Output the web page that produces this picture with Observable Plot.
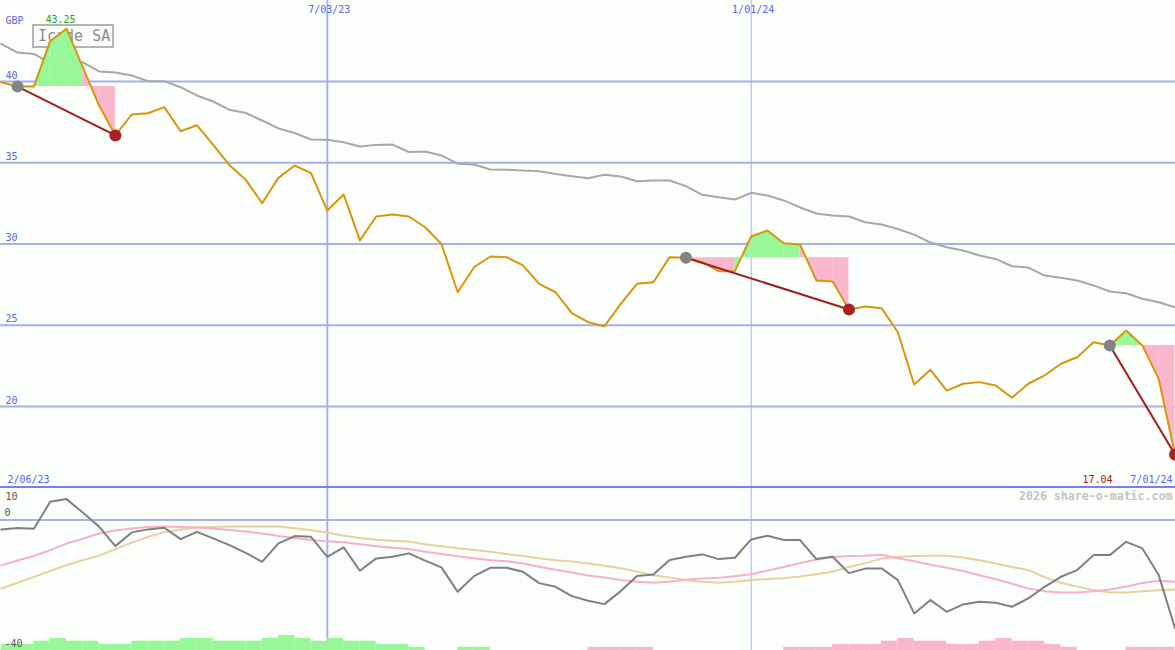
<!DOCTYPE html>
<html><head><meta charset="utf-8">
<script src="https://cdn.jsdelivr.net/npm/d3@7"></script>
<script src="https://cdn.jsdelivr.net/npm/@observablehq/plot@0.6"></script>
<style>
body{margin:0;background:#fcfefb;}
#wrap{position:relative;width:1175px;height:650px;overflow:hidden;background:#fcfefb;}
#title{position:absolute;left:32px;top:24px;width:78px;height:20px;border:2px solid #b4b4b4;font:15px "DejaVu Sans Mono",monospace;color:#8a8a8a;line-height:20px;padding-left:4px;box-sizing:content-box;width:74px;}
#wrap svg{position:relative;display:block;overflow:visible;}
</style></head><body><div id="wrap"><div id="title">Icade SA</div></div>
<script>
// ---- data ----
const firstWeek = "2023-02-13";
const weekCount = 73;
const price = [39.95,39.69,39.69,42.48,43.25,40.88,38.52,36.68,37.97,38.05,
  38.42,36.94,37.31,36.10,34.85,33.95,32.51,34.07,34.83,34.36,
  32.06,33.05,30.22,31.69,31.82,31.69,31.03,30.00,27.03,28.57,
  29.23,29.19,28.68,27.55,27.03,25.74,25.19,24.94,26.32,27.55,
  27.65,29.19,29.15,28.88,28.33,28.33,30.46,30.83,30.05,29.97,
  27.75,27.69,25.97,26.15,26.05,24.57,21.35,22.26,20.98,21.40,
  21.50,21.29,20.54,21.40,21.91,22.63,23.03,23.96,23.75,24.68,
  23.75,21.70,17.04];
const average = [42.32,41.78,41.70,41.13,41.40,41.17,40.62,40.55,40.37,40.02,
  40.02,39.65,39.14,38.77,38.26,38.06,37.60,37.11,36.83,36.43,
  36.41,36.26,36.00,36.10,36.12,35.66,35.69,35.45,34.94,34.89,
  34.58,34.57,34.52,34.48,34.31,34.17,34.05,34.26,34.15,33.86,
  33.91,33.91,33.56,33.03,32.88,32.74,33.15,32.98,32.68,32.25,
  31.88,31.75,31.69,31.34,31.20,30.92,30.58,30.09,29.80,29.60,
  29.29,29.08,28.63,28.55,28.06,27.92,27.75,27.45,27.08,26.97,
  26.63,26.42,26.11];
const oscillator = [-2.85,-2.45,-2.67,5.61,6.44,2.3,-2.0,-7.98,-3.77,-2.85,
  -2.36,-5.83,-3.59,-5.61,-7.67,-10.03,-12.79,-7.15,-4.91,-5.12,
  -11.26,-8.37,-15.55,-11.75,-11.26,-10.21,-12.42,-14.51,-22.0,-17.18,
  -14.63,-14.63,-15.86,-19.33,-20.46,-23.31,-24.75,-25.77,-21.78,-17.18,
  -16.66,-12.27,-11.26,-10.52,-11.96,-11.56,-5.92,-4.82,-6.13,-6.13,
  -11.96,-11.26,-16.26,-14.88,-14.82,-18.4,-28.62,-24.54,-28.13,-25.86,
  -25.06,-25.37,-26.6,-24.02,-20.46,-17.39,-15.34,-10.74,-10.74,-6.66,
  -8.68,-16.87,-33.2];
const oscPink = [-13.9,-12.4,-11.0,-9.2,-7.2,-5.7,-4.1,-3.2,-2.6,-2.1,
  -2.0,-2.1,-2.3,-2.6,-3.0,-3.5,-4.1,-4.9,-5.5,-6.1,
  -6.5,-6.8,-7.4,-8.0,-8.5,-8.9,-9.7,-10.4,-11.1,-11.7,
  -12.3,-12.6,-13.3,-14.3,-15.2,-16.1,-17.0,-17.6,-18.4,-18.9,
  -19.2,-18.9,-18.3,-17.9,-17.7,-17.2,-16.6,-15.5,-14.4,-13.2,
  -12.1,-11.3,-11.0,-10.9,-10.6,-11.7,-12.6,-13.7,-14.6,-15.6,
  -16.9,-18.1,-19.5,-21.0,-21.8,-22.2,-22.2,-21.8,-21.3,-20.4,
  -19.3,-18.6,-18.9];
const oscTan = [-21.0,-19.2,-17.4,-15.6,-13.8,-12.3,-10.9,-8.9,-6.9,-5.2,
  -3.7,-2.9,-2.3,-2.1,-2.0,-2.0,-2.0,-2.0,-2.5,-3.1,
  -3.8,-4.8,-5.5,-6.0,-6.3,-6.6,-7.4,-8.0,-8.6,-9.2,
  -9.7,-10.4,-11.0,-11.7,-12.3,-12.7,-13.3,-14.0,-14.8,-15.8,
  -16.9,-17.6,-18.4,-18.9,-19.2,-18.9,-18.4,-18.1,-17.8,-17.3,
  -16.6,-15.8,-14.4,-13.2,-11.8,-11.3,-11.0,-10.9,-10.9,-11.5,
  -12.3,-13.3,-14.4,-15.3,-17.5,-19.2,-20.4,-21.5,-22.1,-22.2,
  -21.8,-21.5,-21.3];
// weekly histogram: positive = green, negative = pink (72 weekly intervals)
const histogram = [1.85,1.85,2.85,3.7,2.85,2.85,1.85,1.85,2.85,2.85,
  2.85,3.7,3.7,2.85,2.85,2.85,3.7,4.6,3.7,2.85,
  3.7,2.85,2.85,1.85,1.85,1.0,0,0,1.0,1.0,
  0,0,0,0,0,0,-1.0,-1.0,-1.0,-1.0,
  0,0,0,0,0,0,0,0,-1.0,-1.0,
  -1.0,-1.85,-1.85,-1.85,-2.85,-3.7,-2.85,-2.85,-1.85,-1.85,
  -2.85,-3.7,-2.85,-2.85,-1.85,-1.0,0,0,0,-1.0,
  -1.0,-1.0];
const episodeStart = [2, 43, 69];   // week numbers (1-based)
const episodeEnd = [8, 53, 73];
const priceTicks = [20, 25, 30, 35, 40];
const oscTicksTop = [10];
const oscTicksOther = [0, -40];
const dateTicks = ["2023-07-03", "2024-01-01"];
const dateTickLabels = ["7/03/23", "1/01/24"];
const edgeLabels = ["2/06/23", "7/01/24"];
const currency = "GBP";
const credit = "2026 share-o-matic.com";

// ---- build ----
const t0 = d3.utcParse("%Y-%m-%d")(firstWeek);
const dates = d3.range(weekCount).map(i => d3.utcDay.offset(t0, 7 * i));
const rows = dates.map((d, i) => ({date: d, price: price[i], avg: average[i], osc: oscillator[i], pink: oscPink[i], tan: oscTan[i]}));
const tickRows = dateTicks.map((s, i) => ({date: d3.utcParse("%Y-%m-%d")(s), label: dateTickLabels[i]}));

const segGreen = [], segPink = [], links = [], starts = [], ends = [];
episodeStart.forEach((s, e) => {
  const a0 = s - 1, b0 = episodeEnd[e] - 1;
  const lvl = price[a0];
  for (let k = a0; k < b0; k++) {
    const target = price[k + 1] >= lvl ? segGreen : segPink;
    const id = e * 1000 + k;
    target.push({date: dates[k], p: price[k], lvl, seg: id}, {date: dates[k + 1], p: price[k + 1], lvl, seg: id});
  }
  links.push({d1: dates[a0], p1: price[a0], d2: dates[b0], p2: price[b0]});
  starts.push(rows[a0]); ends.push(rows[b0]);
});
const bars = histogram.map((h, k) => ({d1: dates[k], d2: dates[k + 1], h}));
const maxRow = rows.reduce((m, r) => r.price > m.price ? r : m, rows[0]);
const lastRow = rows[rows.length - 1];

const xDomain = [new Date(+dates[0] - 8 * 3600e3), new Date(+dates[weekCount - 1] + 5 * 3600e3)];
const blue = "#5566ee", grid = "#a4b0f2", font = "DejaVu Sans Mono";

const main = Plot.plot({
  width: 1175, height: 487, margin: 0,
  x: {type: "utc", domain: xDomain, axis: null},
  y: {domain: [15.015, 44.985], axis: null},
  style: {background: "transparent", fontFamily: font, fontSize: "10px"},
  marks: [
    Plot.ruleY(priceTicks, {stroke: grid, strokeWidth: 2}),
    Plot.ruleX(tickRows.slice(0, 1), {x: "date", stroke: grid, strokeWidth: 2}),
    Plot.ruleX(tickRows.slice(1), {x: "date", stroke: grid, strokeWidth: 1}),
    Plot.lineY(rows, {x: "date", y: "avg", stroke: "#a8a8a8", strokeWidth: 2}),
    Plot.areaY(segGreen, {x: "date", y1: "lvl", y2: "p", z: "seg", fill: "#98f898"}),
    Plot.areaY(segPink, {x: "date", y1: "lvl", y2: "p", z: "seg", fill: "#fab6cb"}),
    Plot.lineY(rows, {x: "date", y: "price", stroke: "#d8960c", strokeWidth: 2}),
    Plot.link(links, {x1: "d1", y1: "p1", x2: "d2", y2: "p2", stroke: "#a11d1d", strokeWidth: 2}),
    Plot.dot(starts, {x: "date", y: "price", r: 6, fill: "#848484"}),
    Plot.dot(ends, {x: "date", y: "price", r: 6, fill: "#a82222"}),
    Plot.text(priceTicks, {y: d => d, text: d => String(d), frameAnchor: "left", dx: 5, dy: -6, textAnchor: "start", fill: blue}),
    Plot.text([currency], {frameAnchor: "top-left", dx: 5, dy: 20, lineAnchor: "middle", textAnchor: "start", fill: blue}),
    Plot.text(tickRows, {x: "date", text: "label", frameAnchor: "top", dy: 9, dx: 2, lineAnchor: "middle", fill: blue}),
    Plot.text([maxRow], {x: "date", y: "price", text: d => d.price.toFixed(2), dx: -6, dy: -9, fill: "#22a022"}),
    Plot.text([edgeLabels[0]], {frameAnchor: "bottom-left", dx: 7, dy: -8, lineAnchor: "middle", textAnchor: "start", fill: blue}),
    Plot.text([edgeLabels[1]], {frameAnchor: "bottom-right", dx: -3, dy: -8, lineAnchor: "middle", textAnchor: "end", fill: blue}),
    Plot.text([lastRow], {text: d => d.price.toFixed(2), frameAnchor: "bottom-right", dx: -63, dy: -8, lineAnchor: "middle", textAnchor: "end", fill: "#a02020"})
  ]
});

const lower = Plot.plot({
  width: 1175, height: 163, margin: 0,
  x: {type: "utc", domain: xDomain, axis: null},
  y: {domain: [-40, 10], axis: null},
  style: {background: "transparent", fontFamily: font, fontSize: "10px"},
  marks: [
    Plot.ruleY([0], {stroke: grid, strokeWidth: 2}),
    Plot.ruleX(tickRows.slice(0, 1), {x: "date", stroke: grid, strokeWidth: 2}),
    Plot.ruleX(tickRows.slice(1), {x: "date", stroke: grid, strokeWidth: 1}),
    Plot.rect(bars.filter(b => b.h > 0), {x1: "d1", x2: "d2", y1: () => -40, y2: b => -40 + b.h, fill: "#98f898"}),
    Plot.rect(bars.filter(b => b.h < 0), {x1: "d1", x2: "d2", y1: () => -40, y2: b => -40 - b.h, fill: "#fab6cb"}),
    Plot.lineY(rows, {x: "date", y: "tan", stroke: "#e8d0a0", strokeWidth: 2}),
    Plot.lineY(rows, {x: "date", y: "pink", stroke: "#f8b0c8", strokeWidth: 2}),
    Plot.lineY(rows, {x: "date", y: "osc", stroke: "#808080", strokeWidth: 2}),
    Plot.ruleY([10], {stroke: "#7482ea", strokeWidth: 2, dy: -0.5}),
    Plot.text(oscTicksTop, {y: d => d, text: d => String(d), frameAnchor: "left", dx: 5, dy: 9, textAnchor: "start", fill: "#555"}),
    Plot.text(oscTicksOther, {y: d => d, text: d => String(d), frameAnchor: "left", dx: 4, dy: -7, textAnchor: "start", fill: "#555"}),
    Plot.text([credit], {frameAnchor: "top-right", dx: -3, dy: 9, lineAnchor: "middle", textAnchor: "end", fill: "#c4c4c4", fontWeight: "bold", fontSize: 11.6})
  ]
});

const wrap = document.getElementById("wrap");
wrap.appendChild(main);
wrap.appendChild(lower);
</script>
</body></html>
